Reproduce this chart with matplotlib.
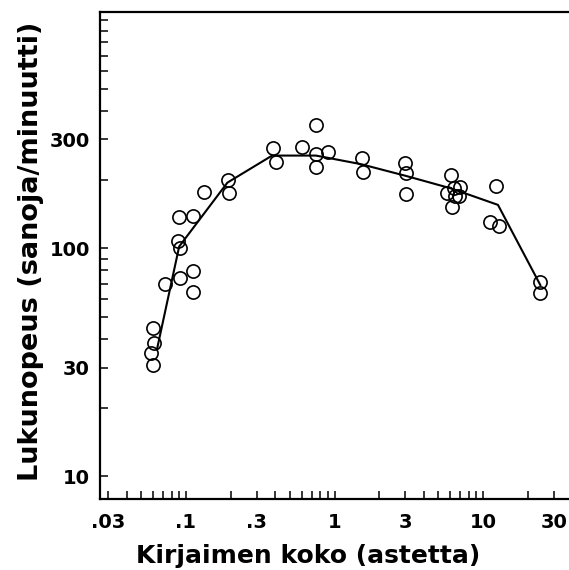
import numpy as np
import matplotlib
matplotlib.use("Agg")
import matplotlib.pyplot as plt
from matplotlib.ticker import FixedLocator, NullLocator

# letter size (degrees) vs reading speed (words/minute)
letter_size = [0.060, 0.061, 0.058, 0.060, 0.072, 0.091, 0.111, 0.112, 0.088, 0.091,
               0.090, 0.111, 0.132, 0.191, 0.194, 0.384, 0.401, 0.600, 0.753, 0.745,
               0.745, 0.901, 1.53, 1.55, 2.96, 3.01, 3.01, 6.11, 5.71, 6.95,
               6.33, 6.87, 6.43, 6.20, 12.3, 11.1, 12.9, 24.3, 24.3]
reading_speed = [44.6, 38.5, 34.6, 30.8, 69.7, 73.9, 79.8, 64.5, 108, 100,
                 137.5, 138.6, 176, 199, 174, 275, 240, 279, 347, 259,
                 228, 265, 248, 216, 237, 213, 172.5, 210, 175, 185,
                 183, 170, 170, 151, 188, 130, 125, 71.4, 63.9]

# fitted curve
fit_size = [0.064, 0.090, 0.19, 0.38, 0.75, 1.5, 3.0, 6.1, 12.6, 24.3]
fit_speed = [36.4, 101.8, 194, 255, 255, 234, 208, 183, 155, 69]

x_labels = {0.03: ".03", 0.1: ".1", 0.3: ".3", 1: "1", 3: "3", 10: "10", 30: "30"}
y_labels = {10: "10", 30: "30", 100: "100", 300: "300"}

plt.rcParams['font.family'] = ['DejaVu Sans']
plt.rcParams['font.weight'] = 'bold'

fig = plt.figure(figsize=(5.69, 5.70), dpi=100)
ax = fig.add_axes([0.1749, 0.124, 0.8251, 0.855])

ax.plot(fit_size, fit_speed, color="black", lw=1.5, zorder=2)
ax.plot(letter_size, reading_speed, 'o', ms=9.5, mfc='none', mec='black', mew=1.2, zorder=3)

ax.set_xscale('log')
ax.set_yscale('log')
ax.set_xlim(0.02618, 37.9)
ax.set_ylim(7.93, 1087)

# ticks at every 1..9 multiple of each decade, labels only on some
xt = [m * 10.0**e for e in range(-2, 2) for m in range(1, 10)]
xt = [v for v in xt if 0.02618 <= v <= 37.9]
yt = [m * 10.0**e for e in range(1, 4) for m in range(1, 10)]
yt = [v for v in yt if 7.93 <= v <= 1087]
ax.xaxis.set_major_locator(FixedLocator(xt))
ax.yaxis.set_major_locator(FixedLocator(yt))
ax.xaxis.set_minor_locator(NullLocator())
ax.yaxis.set_minor_locator(NullLocator())

def lab(v, d):
    for k, s in d.items():
        if abs(v - k) / k < 1e-6:
            return s
    return ""

ax.set_xticklabels([lab(v, x_labels) for v in xt], fontsize=14, fontweight='bold')
ax.set_yticklabels([lab(v, y_labels) for v in yt], fontsize=14, fontweight='bold')
ax.tick_params(axis='x', direction='in', length=6, width=1.1, pad=10)
ax.tick_params(axis='y', direction='in', length=6, width=1.1, pad=7)

for s in ['left', 'bottom', 'top']:
    ax.spines[s].set_linewidth(1.6)
ax.spines['right'].set_visible(False)

ax.set_xlabel("Kirjaimen koko (astetta)", fontsize=18, fontweight='bold')
ax.set_ylabel("Lukunopeus (sanoja/minuutti)", fontsize=19.5, fontweight='bold')
ax.xaxis.set_label_coords(0.444, -0.092)
ax.yaxis.set_label_coords(-0.118, 0.508)

fig.savefig("out.png", dpi=100)
